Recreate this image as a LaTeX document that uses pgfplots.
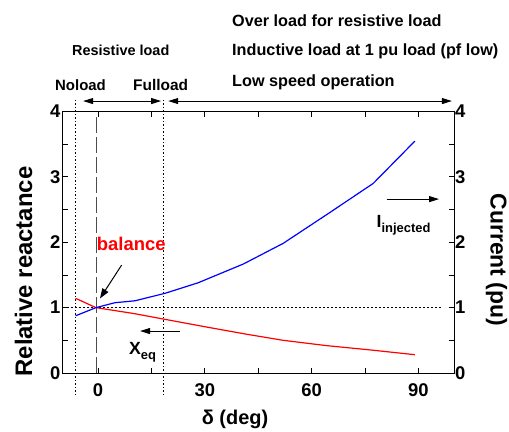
\documentclass[border=0pt]{standalone}
\usepackage{fontspec}
\setmainfont{Liberation Sans}
\usepackage{pgfplots}
\pgfplotsset{compat=1.18}
\usetikzlibrary{arrows.meta}

\newcommand\fs[1]{\fontsize{#1}{#1}\selectfont\bfseries}

\pgfplotsset{
  common/.style={
    at={(62.5bp,58bp)}, anchor=south west,
    scale only axis, width=391.5bp, height=261.5bp,
    xmin=-10, xmax=100, ymin=0, ymax=4,
    ytick={0,1,2,3,4}, minor ytick={0.5,1.5,2.5,3.5},
    tick align=inside, major tick length=5bp, minor tick length=5bp,
    tick style={black, line width=0.8bp},
    axis line style={line width=1bp},
    /pgf/number format/assume math mode=true,
    tick label style={font=\fs{18.5}},
    clip=false,
  },
}

\begin{document}
\begin{tikzpicture}[x=1bp,y=1bp]
\useasboundingbox (0,0) rectangle (509,431);

\begin{axis}[common,
  xtick={0,30,60,90}, minor xtick={15,45,75},
  yticklabel style={inner sep=1bp, xshift=-1bp},
  xticklabel style={inner sep=0bp, yshift=-10bp},
]
  % operating-region boundaries (no load / full load)
  \addplot[black, line width=0.8bp, dash pattern=on 1.5bp off 2bp]
    coordinates {(-6.3,-0.34) (-6.3,4.17)};
  \addplot[black, line width=0.8bp, dash pattern=on 1.5bp off 2bp]
    coordinates {(18.4,-0.34) (18.4,4.17)};
  % balance point
  \addplot[black!70, line width=1.6bp, dash pattern=on 16bp off 4bp]
    coordinates {(-0.5,0) (-0.5,3.95)};
  % 1 pu reference
  \addplot[black, line width=0.8bp, dash pattern=on 2bp off 2bp]
    coordinates {(-10,1) (96.5,1)};

  % equivalent reactance
  \addplot[red, line width=1.2bp] coordinates {
    (-6.3,1.142) (-0.6,1.0) (10,0.91) (18.8,0.821) (30,0.708)
    (41,0.60) (52,0.50) (64,0.42) (77,0.35) (89,0.28)};
  % injected current
  \addplot[blue, line width=1.2bp] coordinates {
    (-6.3,0.876) (-0.6,1.0) (4.7,1.075) (10.4,1.105) (18.8,1.219)
    (28.1,1.38) (40.8,1.667) (52,1.983) (64.7,2.44) (77.3,2.90) (89,3.547)};

  % arrows
  \draw[line width=1bp, -{Triangle[length=10bp,width=7bp]}]
    (axis cs:6.6,1.65) -- (axis cs:0.53,1.14);
  \draw[line width=1bp, -{Triangle[length=10bp,width=6bp]}]
    (axis cs:23,0.642) -- (axis cs:11.8,0.642);
  \draw[line width=1bp, -{Triangle[length=10bp,width=6bp]}]
    (axis cs:81.1,2.66) -- (axis cs:95.8,2.66);
  \draw[line width=1bp, {Triangle[length=10bp,width=6bp]}-{Triangle[length=10bp,width=6bp]}]
    (axis cs:-4.2,4.16) -- (axis cs:17.7,4.16);
  \draw[line width=1bp, {Triangle[length=10bp,width=6bp]}-{Triangle[length=10bp,width=6bp]}]
    (axis cs:19.7,4.16) -- (axis cs:99.4,4.16);
\end{axis}

\begin{axis}[common,
  axis x line=none, axis y line*=right,
  yticklabel style={inner sep=1bp, xshift=0bp},
]
\end{axis}

% labels
\begin{scope}[every node/.style={inner sep=0pt}]
  \node[anchor=base west, font=\fs{16.3}] at (232,404.3) {Over load for resistive load};
  \node[anchor=base west, font=\fs{16.3}] at (232,376) {Inductive load at 1 pu load (pf low)};
  \node[anchor=base west, font=\fs{16.3}] at (232,345) {Low speed operation};
  \node[anchor=base west, font=\fs{14.5}] at (72,376) {Resistive load};
  \node[anchor=base west, font=\fs{15}] at (55,341) {Noload};
  \node[anchor=base west, font=\fs{15.5}] at (133,341) {Fulload};

  \node[anchor=base west, font=\fs{18.5}, text=red] at (96.7,181) {balance};
  \node[anchor=base west, font=\fs{17.7}] at (129,76.7)
    {X\raisebox{-5.5bp}{\fs{13}eq}};
  \node[anchor=base west, font=\fs{17.7}] at (376.5,203.7)
    {I\raisebox{-5bp}{\fs{13}injected}};

  \node[rotate=90, font=\fs{24}] at (23.5,159.5) {Relative reactance};
  \node[rotate=-90, font=\fs{23}] at (496.5,171) {Current (pu)};
  \node[font=\fs{20}] at (235,12) {δ (deg)};
\end{scope}
\end{tikzpicture}
\end{document}
